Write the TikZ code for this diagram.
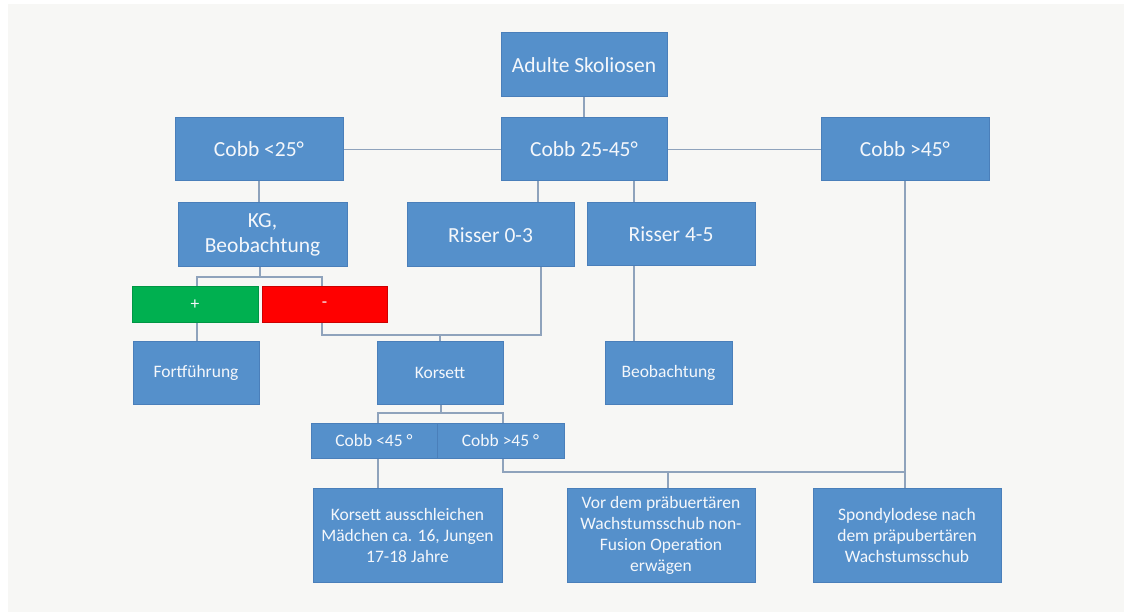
\documentclass[tikz,border=0pt]{standalone}
\usepackage{fontspec}
\setmainfont{Carlito}
\definecolor{boxfill}{HTML}{5590CB}
\definecolor{boxline}{HTML}{4A7FBA}
\definecolor{conn}{HTML}{8FA3BC}
\definecolor{bg}{HTML}{F7F7F5}
\definecolor{txt}{HTML}{F4F7FB}
\definecolor{gfill}{HTML}{00B050}
\definecolor{rfill}{HTML}{FF0000}
\pgfdeclarelayer{bgl}
\pgfdeclarelayer{back}
\pgfsetlayers{bgl,back,main}
\begin{document}
\begin{tikzpicture}[x=1pt,y=-1pt,
  box/.style={draw=boxline,line width=1pt,fill=boxfill,text=txt,inner sep=2pt,align=center,font=\fontsize{21.5}{25}\selectfont},
  sbox/.style={box,font=\fontsize{17.5}{21}\selectfont},
  wire/.style={draw=conn,line width=1.8pt}]
\useasboundingbox (0,0) rectangle (1130,612);
\begin{pgfonlayer}{bgl}
\fill[white] (0,0) rectangle (1130,612);
\fill[bg] (8,4) rectangle (1124,612);
\end{pgfonlayer}

\coordinate (kgj) at (260,277);
\coordinate (rj) at (322,335);
\coordinate (kj) at (441,413);
\coordinate (cj) at (503,472);

% nodes
\node[box,minimum width=166pt,minimum height=64pt] (adult) at (584,65) {Adulte Skoliosen};
\node[box,minimum width=166pt,minimum height=63pt] (c2545) at (584,149.5) {Cobb 25-45°};
\node[box,minimum width=168pt,minimum height=63pt] (cgt) at (905,149.5) {Cobb >45°};
\node[box,minimum width=168pt,minimum height=63pt] (clt) at (259,149.5) {Cobb <25°};
\node[box,minimum width=169pt,minimum height=64pt] (kg) at (262.5,235) {KG,\\Beobachtung};
\node[box,minimum width=167pt,minimum height=64pt] (r03) at (490.5,235) {Risser 0-3};
\node[box,minimum width=168pt,minimum height=63pt] (r45) at (671,234) {Risser 4-5};
\node[sbox,draw=gfill!85!black,fill=gfill,minimum width=126pt,minimum height=36pt] (plus) at (195,305) {+};
\node[sbox,draw=rfill!80!black,fill=rfill,minimum width=125pt,minimum height=36pt] (minus) at (324.5,305) {-};
\node[sbox,minimum width=126pt,minimum height=62pt] (fort) at (196,373) {Fortführung};
\node[sbox,minimum width=126pt,minimum height=62pt] (kors) at (440,373) {Korsett};
\node[sbox,minimum width=127pt,minimum height=62pt] (beob) at (668.5,373) {Beobachtung};
\node[sbox,minimum width=126pt,minimum height=35pt] (clt45) at (374,440.5) {Cobb <45 °};
\node[sbox,minimum width=127pt,minimum height=35pt] (cgt45) at (500.5,440.5) {Cobb >45 °};
\node[sbox,minimum width=189pt,minimum height=94pt] (ka) at (407.5,535) {Korsett ausschleichen\\Mädchen ca. 16, Jungen\\17-18 Jahre};
\node[sbox,minimum width=188pt,minimum height=94pt] (vor) at (661,535) {Vor dem präbuertären\\Wachstumsschub non-\\Fusion Operation\\erwägen};
\node[sbox,minimum width=188pt,minimum height=94pt] (spon) at (907,535) {Spondylodese nach\\dem präpubertären\\Wachstumsschub};

\begin{pgfonlayer}{back}
\draw[wire] (adult.south) -- (c2545.north);
\draw[wire] (clt.east) -- (c2545.west);
\draw[wire] (c2545.east) -- (cgt.west);
\draw[wire] (clt.south) -- (clt.south |- kg.north);
\draw[wire] (538,0 |- c2545.south) -- (538,0 |- r03.north);
\draw[wire] (634,0 |- c2545.south) -- (634,0 |- r45.north);
\draw[wire] (260,0 |- kg.south) -- (kgj);
\draw[wire] (197,0 |- plus.north) |- (kgj) -| (322,0 |- minus.north);
\draw[wire] (197,0 |- plus.south) -- (197,0 |- fort.north);
\draw[wire] (322,0 |- minus.south) -- (rj) -| (541,0 |- r03.south);
\draw[wire] (kors.north) -- (kors.north |- rj);
\draw[wire] (634,0 |- r45.south) -- (634,0 |- beob.north);
\draw[wire] (441,0 |- kors.south) -- (kj);
\draw[wire] (378,0 |- clt45.north) |- (kj) -| (503,0 |- cgt45.north);
\draw[wire] (378,0 |- clt45.south) -- (378,0 |- ka.north);
\draw[wire] (503,0 |- cgt45.south) -- (cj) -| (cgt.south);
\draw[wire] (cgt.south) -- (cgt.south |- spon.north);
\draw[wire] (668,0 |- cj) -- (668,0 |- vor.north);
\end{pgfonlayer}
\end{tikzpicture}
\end{document}
